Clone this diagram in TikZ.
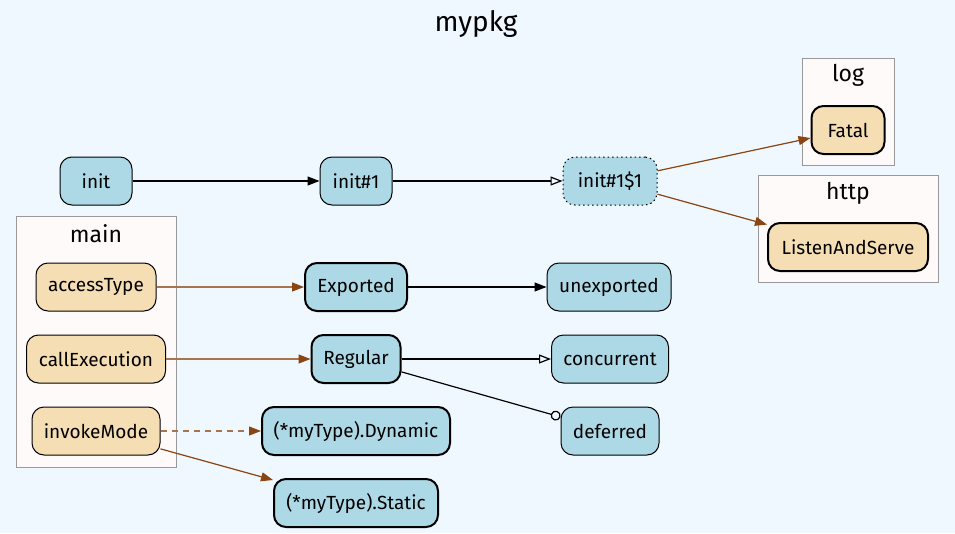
\documentclass[tikz,border=0pt]{standalone}
\usepackage{fontspec}
\setmainfont{Fira Sans}
\usetikzlibrary{arrows.meta}
\definecolor{cgBack}{HTML}{F0F8FF}
\definecolor{cgFunc}{HTML}{ADD8E6}
\definecolor{cgExt}{HTML}{F5DEB3}
\definecolor{cgBox}{HTML}{FFFAFA}
\definecolor{cgEdge}{HTML}{8B4513}
\definecolor{cgFrame}{HTML}{999999}

\begin{document}
\begin{tikzpicture}[x=1pt, y=-1pt,
  fn/.style={draw=black, fill=cgFunc, rounded corners=12pt, minimum height=48pt,
    inner sep=0pt, font=\fontsize{19}{21}\selectfont, line width=1pt},
  ext/.style={fn, fill=cgExt},
  exported/.style={line width=2pt},
  pkgbox/.style={draw=cgFrame, fill=cgBox, line width=1pt},
  pkglabel/.style={font=\fontsize{23}{26}\selectfont},
  call/.style={line width=1.2pt, -{Triangle[length=12pt,width=9pt]}},
  gocall/.style={line width=1.2pt, -{Triangle[open,length=12pt,width=9pt]}},
  defercall/.style={line width=1.2pt, -{Circle[open,length=10pt]}},
  extcall/.style={call, draw=cgEdge, fill=cgEdge},
  maincall/.style={line width=1.2pt, draw=cgEdge!75,
    -{Triangle[length=12pt,width=9pt,color=cgEdge,fill=cgEdge]}}]

  % background
  \fill[cgBack] (0,0) rectangle (955,533);
  \useasboundingbox (0,0) rectangle (955,533);
  \node[font=\fontsize{28}{31}\selectfont] (title) at (476,24) {mypkg};

  % packages
  \draw[pkgbox] (16,216) rectangle (176,467);
  \node[pkglabel] (mainlbl) at (96,234) {main};
  \draw[pkgbox] (802,58) rectangle (894,165);
  \node[pkglabel] (loglbl) at (848,75) {log};
  \draw[pkgbox] (758,175) rectangle (938,282);
  \node[pkglabel] (httplbl) at (848,193) {http};

  % mypkg
  \node[fn, minimum width=72pt] (init) at (96,181) {init};
  \node[fn, minimum width=72pt] (init1) at (356,181) {init\#1};
  \node[fn, minimum width=94pt, dash pattern=on 1.5pt off 3pt] (init11) at (610,181) {init\#1\$1};
  \node[fn, exported, minimum width=102pt] (exp) at (356,287) {Exported};
  \node[fn, exported, minimum width=89pt] (reg) at (356,359) {Regular};
  \node[fn, exported, minimum width=188pt] (dyn) at (356,431) {(*myType).Dynamic};
  \node[fn, exported, minimum width=164pt] (stat) at (356,503) {(*myType).Static};
  \node[fn, minimum width=124pt] (unexp) at (609,287) {unexported};
  \node[fn, minimum width=117pt] (conc) at (610,359) {concurrent};
  \node[fn, minimum width=98pt] (defr) at (610,431) {deferred};

  % main
  \node[ext, minimum width=120pt] (access) at (96,287) {accessType};
  \node[ext, minimum width=139pt] (callexec) at (96,359) {callExecution};
  \node[ext, minimum width=128pt] (invoke) at (96,431) {invokeMode};

  % log, http
  \node[ext, exported, minimum width=73pt] (fatal) at (848,130) {Fatal};
  \node[ext, exported, minimum width=160pt] (listen) at (848,247) {ListenAndServe};

  % calls
  \draw[call] (init) -- (init1);
  \draw[gocall] (init1) -- (init11);
  \draw[extcall] (init11) -- (fatal);
  \draw[extcall] (init11) -- (listen);
  \draw[maincall] (access) -- (exp);
  \draw[maincall] (callexec) -- (reg);
  \draw[maincall, dash pattern=on 6pt off 5pt] (invoke) -- (dyn);
  \draw[extcall] (invoke) -- (stat);
  \draw[call] (exp) -- (unexp);
  \draw[gocall] (reg) -- (conc);
  \draw[defercall] (reg) -- (defr);
\end{tikzpicture}
\end{document}
